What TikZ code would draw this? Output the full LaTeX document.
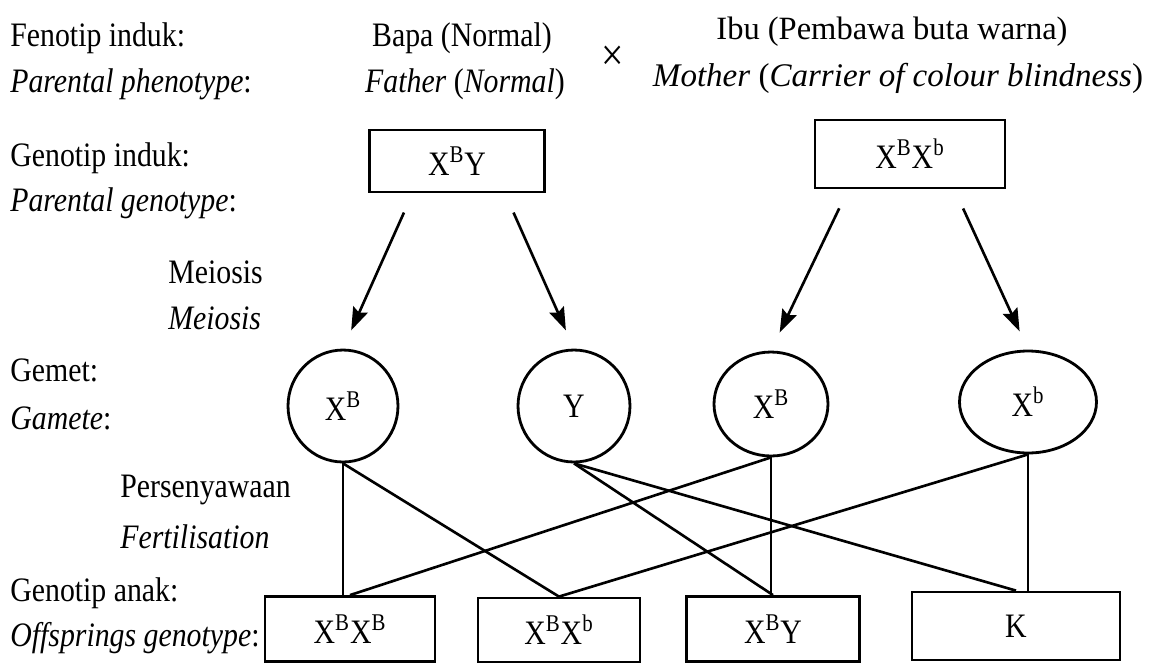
\documentclass[tikz,border=0pt]{standalone}
\usepackage{fontspec}
\setmainfont{Liberation Serif}[FakeStretch=0.87]
\newfontfamily\widefont{Liberation Serif}
\usetikzlibrary{arrows.meta, shapes.geometric, calc}
\newcommand{\al}[1]{\textsuperscript{#1}}
\newcommand{\wlab}[3]{\node[lab] (#1) at (10,#2) {#3};}

\begin{document}
\begin{tikzpicture}[x=0.02cm, y=-0.02cm,
  every node/.style={font=\fontsize{19.5}{22}\selectfont, inner sep=0pt},
  lab/.style={anchor=west},
  gbox/.style={draw, line width=1.6pt, rectangle},
  gam/.style={draw, line width=1.6pt, ellipse},
  link/.style={line width=1.5pt},
  arr/.style={line width=1.5pt, -{Stealth[length=13pt, width=9pt, inset=2pt]},
    shorten <=0.42cm, shorten >=0.4cm}]
\useasboundingbox (0,0) rectangle (1161,664);
% row labels
\wlab{fen}{38}{Fenotip induk:}
\wlab{fenE}{84}{\textit{Parental phenotype}:}
\wlab{gen}{158}{Genotip induk:}
\wlab{genE}{203}{\textit{Parental genotype}:}
\wlab{gem}{370}{Gemet:}
\wlab{gemE}{418}{\textit{Gamete}:}
\wlab{anak}{593}{Genotip anak:}
\wlab{anakE}{638}{\textit{Offsprings genotype}:}
% process labels
\node[lab] (mei) at (168,272) {Meiosis};
\node[lab] (meiE) at (168,318) {\textit{Meiosis}};
\node[lab] (fer) at (120,490) {Persenyawaan};
\node[lab] (ferE) at (120,537) {\textit{Fertilisation}};
% parents
\node (bapa) at (462,38) {Bapa (Normal)};
\node (bapaE) at (465,84) {\textit{Father} (\textit{Normal})};
\node[font=\widefont\fontsize{18.5}{22}\selectfont] (ibu) at (892,32) {Ibu (Pembawa buta warna)};
\node[font=\widefont\fontsize{18.8}{22}\selectfont] (ibuE) at (898,78)
  {\textit{Mother} (\textit{Carrier of colour blindness})};
\node[font=\fontsize{26}{26}\selectfont] (kali) at (613,58) {×};
\node[gbox, minimum width=3.5cm, minimum height=1.24cm] (pf) at (457,161) {X\al{B}Y};
\node[gbox, minimum width=3.8cm, minimum height=1.36cm] (pm) at (910,154) {X\al{B}X\al{b}};
% gametes
\node[gam, minimum width=2.2cm, minimum height=2.24cm] (g1) at (343,406) {X\al{B}};
\node[gam, minimum width=2.24cm, minimum height=2.24cm] (g2) at (574,406) {Y};
\node[gam, minimum width=2.28cm, minimum height=2.08cm] (g3) at (771,404) {X\al{B}};
\node[gam, minimum width=2.74cm, minimum height=2.04cm] (g4) at (1028,402) {X\al{b}};
% offspring
\node[gbox, minimum width=3.4cm, minimum height=1.3cm] (o1) at (350,629) {X\al{B}X\al{B}};
\node[gbox, minimum width=3.24cm, minimum height=1.28cm] (o2) at (559,630) {X\al{B}X\al{b}};
\node[gbox, minimum width=3.46cm, minimum height=1.3cm] (o3) at (773,629) {X\al{B}Y};
\node[gbox, minimum width=4.16cm, minimum height=1.36cm] (o4) at (1016,626) {K};
% meiosis
\draw[arr] ($(pf.south west)!0.25!(pf.south east)$) -- (g1.north);
\draw[arr] ($(pf.south west)!0.77!(pf.south east)$) -- (g2.north);
\draw[arr] ($(pm.south west)!0.18!(pm.south east)$) -- (g3.north);
\draw[arr] ($(pm.south west)!0.73!(pm.south east)$) -- (g4.north);
% fertilisation
\foreach \a/\b in {g1/o2, g2/o3, g2/o4, g3/o1, g4/o2}
  \draw[link] (\a.south) -- (\b.north);
\foreach \a/\b in {g1/o1, g3/o3, g4/o4}
  \draw[link] (\a.south) -- (\a.south |- \b.north);
\end{tikzpicture}
\end{document}
